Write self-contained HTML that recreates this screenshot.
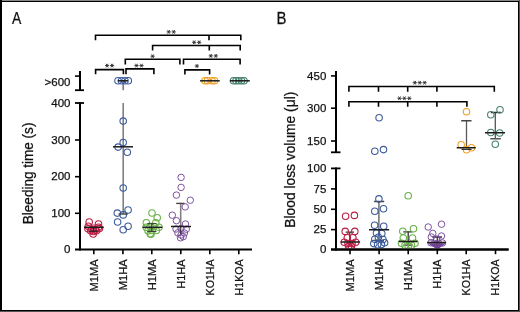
<!DOCTYPE html>
<html><head><meta charset="utf-8"><style>
html,body{margin:0;padding:0;background:#fff;}
svg{display:block;will-change:transform;}
text{font-family:"Liberation Sans", sans-serif;fill:#111;stroke:#111;stroke-width:0.25px;}
</style></head><body>
<svg width="520" height="312" viewBox="0 0 520 312">
<defs><clipPath id="clipB"><rect x="337" y="0" width="183" height="248.6"/></clipPath></defs>
<rect x="0" y="0" width="520" height="312" fill="#fff"/>
<line x1="80" y1="71" x2="80" y2="91" stroke="#000" stroke-width="2"/>
<line x1="75" y1="76.1" x2="80" y2="76.1" stroke="#000" stroke-width="1.6"/>
<line x1="75" y1="90.2" x2="84" y2="90.2" stroke="#000" stroke-width="1.8"/>
<line x1="80" y1="102.2" x2="80" y2="250.5" stroke="#000" stroke-width="2"/>
<line x1="75" y1="103" x2="84" y2="103" stroke="#000" stroke-width="1.8"/>
<line x1="75" y1="140" x2="80" y2="140" stroke="#000" stroke-width="1.6"/>
<line x1="75" y1="176.7" x2="80" y2="176.7" stroke="#000" stroke-width="1.6"/>
<line x1="75" y1="213.3" x2="80" y2="213.3" stroke="#000" stroke-width="1.6"/>
<line x1="75" y1="249.5" x2="252" y2="249.5" stroke="#000" stroke-width="2"/>
<line x1="93.8" y1="250" x2="93.8" y2="254.2" stroke="#000" stroke-width="1.6"/>
<line x1="122.9" y1="250" x2="122.9" y2="254.2" stroke="#000" stroke-width="1.6"/>
<line x1="151.8" y1="250" x2="151.8" y2="254.2" stroke="#000" stroke-width="1.6"/>
<line x1="180.8" y1="250" x2="180.8" y2="254.2" stroke="#000" stroke-width="1.6"/>
<line x1="209.8" y1="250" x2="209.8" y2="254.2" stroke="#000" stroke-width="1.6"/>
<line x1="238.8" y1="250" x2="238.8" y2="254.2" stroke="#000" stroke-width="1.6"/>
<text x="70.5" y="86.1" font-size="11.5" text-anchor="end" >&gt;600</text>
<text x="70.5" y="106.5" font-size="11.5" text-anchor="end" >400</text>
<text x="70.5" y="143.6" font-size="11.5" text-anchor="end" >300</text>
<text x="70.5" y="180.29999999999998" font-size="11.5" text-anchor="end" >200</text>
<text x="70.5" y="216.9" font-size="11.5" text-anchor="end" >100</text>
<text x="70.5" y="253.4" font-size="11.5" text-anchor="end" >0</text>
<text transform="translate(97.9,259.3) rotate(-90)" font-size="11.5" text-anchor="end"  textLength="32.2" lengthAdjust="spacingAndGlyphs">M1MA</text>
<text transform="translate(127,259.3) rotate(-90)" font-size="11.5" text-anchor="end"  textLength="31.0" lengthAdjust="spacingAndGlyphs">M1HA</text>
<text transform="translate(155.9,259.3) rotate(-90)" font-size="11.5" text-anchor="end"  textLength="31.0" lengthAdjust="spacingAndGlyphs">H1MA</text>
<text transform="translate(184.9,259.3) rotate(-90)" font-size="11.5" text-anchor="end"  textLength="29.5" lengthAdjust="spacingAndGlyphs">H1HA</text>
<text transform="translate(213.9,259.3) rotate(-90)" font-size="11.5" text-anchor="end"  textLength="36.2" lengthAdjust="spacingAndGlyphs">KO1HA</text>
<text transform="translate(242.9,259.3) rotate(-90)" font-size="11.5" text-anchor="end"  textLength="36.2" lengthAdjust="spacingAndGlyphs">H1KOA</text>
<text transform="translate(33,224.2) rotate(-90)" font-size="13.8" text-anchor="start"  textLength="101.6" lengthAdjust="spacingAndGlyphs">Bleeding time (s)</text>
<text transform="translate(11.9,23.7) scale(0.83,1)" font-size="16.8">A</text>
<path d="M95.5 40.2L95.5 35.3L240.8 35.3L240.8 40.2M209 35.3L209 40.2" fill="none" stroke="#000" stroke-width="1.6" stroke-linejoin="miter" stroke-linecap="butt"/>
<path d="M166.60 31.90L170.80 31.90M167.65 30.08L169.75 33.72M169.75 30.08L167.65 33.72" stroke="#2a2a2a" stroke-width="0.9" fill="none"/>
<path d="M171.60 31.90L175.80 31.90M172.65 30.08L174.75 33.72M174.75 30.08L172.65 33.72" stroke="#2a2a2a" stroke-width="0.9" fill="none"/>
<path d="M152.6 50.4L152.6 45.5L240.2 45.5L240.2 50.4M209.3 45.5L209.3 50.4" fill="none" stroke="#000" stroke-width="1.6" stroke-linejoin="miter" stroke-linecap="butt"/>
<path d="M192.10 42.30L196.30 42.30M193.15 40.48L195.25 44.12M195.25 40.48L193.15 44.12" stroke="#2a2a2a" stroke-width="0.9" fill="none"/>
<path d="M197.10 42.30L201.30 42.30M198.15 40.48L200.25 44.12M200.25 40.48L198.15 44.12" stroke="#2a2a2a" stroke-width="0.9" fill="none"/>
<path d="M125.3 64.4L125.3 59.3L179.9 59.3L179.9 64.4" fill="none" stroke="#000" stroke-width="1.6" stroke-linejoin="miter" stroke-linecap="butt"/>
<path d="M150.50 56.20L154.70 56.20M151.55 54.38L153.65 58.02M153.65 54.38L151.55 58.02" stroke="#2a2a2a" stroke-width="0.9" fill="none"/>
<path d="M95.6 74.2L95.6 69.6L123.4 69.6L123.4 74.2" fill="none" stroke="#000" stroke-width="1.6" stroke-linejoin="miter" stroke-linecap="butt"/>
<path d="M105.00 65.60L109.20 65.60M106.05 63.78L108.15 67.42M108.15 63.78L106.05 67.42" stroke="#2a2a2a" stroke-width="0.9" fill="none"/>
<path d="M110.00 65.60L114.20 65.60M111.05 63.78L113.15 67.42M113.15 63.78L111.05 67.42" stroke="#2a2a2a" stroke-width="0.9" fill="none"/>
<path d="M126 74.2L126 68.9L153.9 68.9L153.9 74.2" fill="none" stroke="#000" stroke-width="1.6" stroke-linejoin="miter" stroke-linecap="butt"/>
<path d="M134.40 65.60L138.60 65.60M135.45 63.78L137.55 67.42M137.55 63.78L135.45 67.42" stroke="#2a2a2a" stroke-width="0.9" fill="none"/>
<path d="M139.40 65.60L143.60 65.60M140.45 63.78L142.55 67.42M142.55 63.78L140.45 67.42" stroke="#2a2a2a" stroke-width="0.9" fill="none"/>
<path d="M183.5 64.4L183.5 59.3L240.1 59.3L240.1 64.4" fill="none" stroke="#000" stroke-width="1.6" stroke-linejoin="miter" stroke-linecap="butt"/>
<path d="M208.70 55.90L212.90 55.90M209.75 54.08L211.85 57.72M211.85 54.08L209.75 57.72" stroke="#2a2a2a" stroke-width="0.9" fill="none"/>
<path d="M213.70 55.90L217.90 55.90M214.75 54.08L216.85 57.72M216.85 54.08L214.75 57.72" stroke="#2a2a2a" stroke-width="0.9" fill="none"/>
<path d="M184.9 74.5L184.9 69.9L209.6 69.9L209.6 74.5" fill="none" stroke="#000" stroke-width="1.6" stroke-linejoin="miter" stroke-linecap="butt"/>
<path d="M194.80 66.00L199.00 66.00M195.85 64.18L197.95 67.82M197.95 64.18L195.85 67.82" stroke="#2a2a2a" stroke-width="0.9" fill="none"/>
<circle cx="89.2" cy="222" r="3.25" fill="none" stroke="#bb1d43" stroke-width="1.1"/>
<circle cx="98.5" cy="224" r="3.25" fill="none" stroke="#bb1d43" stroke-width="1.1"/>
<circle cx="88.3" cy="226.2" r="3.25" fill="none" stroke="#bb1d43" stroke-width="1.1"/>
<circle cx="98.6" cy="227.2" r="3.25" fill="none" stroke="#bb1d43" stroke-width="1.1"/>
<circle cx="88" cy="228.8" r="3.25" fill="none" stroke="#bb1d43" stroke-width="1.1"/>
<circle cx="99.4" cy="228.6" r="3.25" fill="none" stroke="#bb1d43" stroke-width="1.1"/>
<circle cx="91.8" cy="229.5" r="3.25" fill="none" stroke="#bb1d43" stroke-width="1.1"/>
<circle cx="95.3" cy="229.8" r="3.25" fill="none" stroke="#bb1d43" stroke-width="1.1"/>
<circle cx="90.6" cy="230.8" r="3.25" fill="none" stroke="#bb1d43" stroke-width="1.1"/>
<circle cx="96.4" cy="230.8" r="3.25" fill="none" stroke="#bb1d43" stroke-width="1.1"/>
<circle cx="93.5" cy="228.2" r="3.25" fill="none" stroke="#bb1d43" stroke-width="1.1"/>
<circle cx="93.4" cy="231.5" r="3.25" fill="none" stroke="#bb1d43" stroke-width="1.1"/>
<circle cx="93.2" cy="234" r="3.25" fill="none" stroke="#bb1d43" stroke-width="1.1"/>
<line x1="89" y1="231.2" x2="97.5" y2="231.2" stroke="#222" stroke-width="1.2"/>
<line x1="93.5" y1="227.3" x2="93.5" y2="231.2" stroke="#222" stroke-width="1.2"/>
<line x1="84" y1="227.3" x2="103.8" y2="227.3" stroke="#1c1c1c" stroke-width="1.5"/>
<line x1="123.2" y1="80.8" x2="123.2" y2="90.2" stroke="#808080" stroke-width="1.7"/>
<line x1="123.2" y1="103" x2="123.2" y2="214" stroke="#808080" stroke-width="1.6"/>
<circle cx="118" cy="80.8" r="3.25" fill="none" stroke="#3d5c9c" stroke-width="1.1"/>
<circle cx="121.5" cy="80.8" r="3.25" fill="none" stroke="#3d5c9c" stroke-width="1.1"/>
<circle cx="125" cy="80.8" r="3.25" fill="none" stroke="#3d5c9c" stroke-width="1.1"/>
<circle cx="128.3" cy="80.8" r="3.25" fill="none" stroke="#3d5c9c" stroke-width="1.1"/>
<line x1="117.7" y1="80.8" x2="128" y2="80.8" stroke="#1c1c1c" stroke-width="1.5"/>
<circle cx="123.2" cy="121.1" r="3.25" fill="none" stroke="#3d5c9c" stroke-width="1.1"/>
<circle cx="123.2" cy="142.5" r="3.25" fill="none" stroke="#3d5c9c" stroke-width="1.1"/>
<circle cx="118.1" cy="147.1" r="3.25" fill="none" stroke="#3d5c9c" stroke-width="1.1"/>
<circle cx="127.3" cy="152.2" r="3.25" fill="none" stroke="#3d5c9c" stroke-width="1.1"/>
<circle cx="123.2" cy="188" r="3.25" fill="none" stroke="#3d5c9c" stroke-width="1.1"/>
<circle cx="128.1" cy="210" r="3.25" fill="none" stroke="#3d5c9c" stroke-width="1.1"/>
<circle cx="117.3" cy="213.1" r="3.25" fill="none" stroke="#3d5c9c" stroke-width="1.1"/>
<circle cx="123.2" cy="214.9" r="3.25" fill="none" stroke="#3d5c9c" stroke-width="1.1"/>
<circle cx="117.6" cy="222" r="3.25" fill="none" stroke="#3d5c9c" stroke-width="1.1"/>
<circle cx="128.1" cy="226.2" r="3.25" fill="none" stroke="#3d5c9c" stroke-width="1.1"/>
<circle cx="123.2" cy="229.7" r="3.25" fill="none" stroke="#3d5c9c" stroke-width="1.1"/>
<line x1="113" y1="146.8" x2="133" y2="146.8" stroke="#1c1c1c" stroke-width="1.5"/>
<line x1="118.5" y1="214" x2="127.8" y2="214" stroke="#444" stroke-width="1.4"/>
<circle cx="152" cy="213" r="3.25" fill="none" stroke="#68b046" stroke-width="1.1"/>
<circle cx="157.2" cy="217.8" r="3.25" fill="none" stroke="#68b046" stroke-width="1.1"/>
<circle cx="146.3" cy="222.7" r="3.25" fill="none" stroke="#68b046" stroke-width="1.1"/>
<circle cx="155.8" cy="222.8" r="3.25" fill="none" stroke="#68b046" stroke-width="1.1"/>
<circle cx="146.2" cy="227.2" r="3.25" fill="none" stroke="#68b046" stroke-width="1.1"/>
<circle cx="150" cy="226.3" r="3.25" fill="none" stroke="#68b046" stroke-width="1.1"/>
<circle cx="154" cy="226.5" r="3.25" fill="none" stroke="#68b046" stroke-width="1.1"/>
<circle cx="159" cy="227.2" r="3.25" fill="none" stroke="#68b046" stroke-width="1.1"/>
<circle cx="148" cy="230.8" r="3.25" fill="none" stroke="#68b046" stroke-width="1.1"/>
<circle cx="152" cy="230.5" r="3.25" fill="none" stroke="#68b046" stroke-width="1.1"/>
<circle cx="156.3" cy="230.5" r="3.25" fill="none" stroke="#68b046" stroke-width="1.1"/>
<circle cx="150.2" cy="233.8" r="3.25" fill="none" stroke="#68b046" stroke-width="1.1"/>
<circle cx="151" cy="234.3" r="3.25" fill="none" stroke="#68b046" stroke-width="1.1"/>
<line x1="151.8" y1="223.7" x2="151.8" y2="231.4" stroke="#333" stroke-width="1.0"/>
<line x1="147.3" y1="223.7" x2="156.5" y2="223.7" stroke="#333" stroke-width="1.0"/>
<line x1="147.3" y1="231.4" x2="156.5" y2="231.4" stroke="#333" stroke-width="1.0"/>
<line x1="142.5" y1="227.3" x2="162.3" y2="227.3" stroke="#1c1c1c" stroke-width="1.5"/>
<line x1="180.7" y1="203.4" x2="180.7" y2="226.5" stroke="#808080" stroke-width="1.6"/>
<line x1="176.2" y1="203.4" x2="184.5" y2="203.4" stroke="#444" stroke-width="1.4"/>
<circle cx="181.1" cy="177.4" r="3.25" fill="none" stroke="#77499b" stroke-width="0.95"/>
<circle cx="181.1" cy="187.4" r="3.25" fill="none" stroke="#77499b" stroke-width="0.95"/>
<circle cx="176.4" cy="195.1" r="3.25" fill="none" stroke="#77499b" stroke-width="0.95"/>
<circle cx="190.3" cy="200.2" r="3.25" fill="none" stroke="#77499b" stroke-width="0.95"/>
<circle cx="185.2" cy="206.9" r="3.25" fill="none" stroke="#77499b" stroke-width="0.95"/>
<circle cx="172.3" cy="215.2" r="3.25" fill="none" stroke="#77499b" stroke-width="0.95"/>
<circle cx="176.4" cy="220.7" r="3.25" fill="none" stroke="#77499b" stroke-width="0.95"/>
<circle cx="185.5" cy="224" r="3.25" fill="none" stroke="#77499b" stroke-width="0.95"/>
<circle cx="176" cy="229" r="3.25" fill="none" stroke="#77499b" stroke-width="0.95"/>
<circle cx="181" cy="228.5" r="3.25" fill="none" stroke="#77499b" stroke-width="0.95"/>
<circle cx="186.3" cy="229.2" r="3.25" fill="none" stroke="#77499b" stroke-width="0.95"/>
<circle cx="177.8" cy="232.8" r="3.25" fill="none" stroke="#77499b" stroke-width="0.95"/>
<circle cx="184.4" cy="233" r="3.25" fill="none" stroke="#77499b" stroke-width="0.95"/>
<circle cx="181" cy="235" r="3.25" fill="none" stroke="#77499b" stroke-width="0.95"/>
<circle cx="183.3" cy="236.6" r="3.25" fill="none" stroke="#77499b" stroke-width="0.95"/>
<circle cx="180.5" cy="237.8" r="3.25" fill="none" stroke="#77499b" stroke-width="0.95"/>
<line x1="180.7" y1="226.5" x2="180.7" y2="234" stroke="#333" stroke-width="1.2"/>
<line x1="171" y1="226.5" x2="191" y2="226.5" stroke="#1c1c1c" stroke-width="1.5"/>
<circle cx="205" cy="80.8" r="3.25" fill="none" stroke="#efa025" stroke-width="1.1"/>
<circle cx="207.5" cy="80.8" r="3.25" fill="none" stroke="#efa025" stroke-width="1.1"/>
<circle cx="212" cy="80.8" r="3.25" fill="none" stroke="#efa025" stroke-width="1.1"/>
<circle cx="214.5" cy="80.8" r="3.25" fill="none" stroke="#efa025" stroke-width="1.1"/>
<line x1="200.1" y1="80.8" x2="219.7" y2="80.8" stroke="#1c1c1c" stroke-width="1.5"/>
<circle cx="233.5" cy="80.8" r="3.25" fill="none" stroke="#45836a" stroke-width="1.1"/>
<circle cx="236" cy="80.8" r="3.25" fill="none" stroke="#45836a" stroke-width="1.1"/>
<circle cx="238.8" cy="80.8" r="3.25" fill="none" stroke="#45836a" stroke-width="1.1"/>
<circle cx="241.5" cy="80.8" r="3.25" fill="none" stroke="#45836a" stroke-width="1.1"/>
<circle cx="244" cy="80.8" r="3.25" fill="none" stroke="#45836a" stroke-width="1.1"/>
<line x1="229.9" y1="80.8" x2="249.8" y2="80.8" stroke="#1c1c1c" stroke-width="1.5"/>
<line x1="336" y1="71" x2="336" y2="152.3" stroke="#000" stroke-width="2"/>
<line x1="331" y1="75.9" x2="336" y2="75.9" stroke="#000" stroke-width="1.6"/>
<line x1="331" y1="108.2" x2="336" y2="108.2" stroke="#000" stroke-width="1.6"/>
<line x1="331" y1="141" x2="336" y2="141" stroke="#000" stroke-width="1.6"/>
<line x1="331" y1="152.3" x2="340.5" y2="152.3" stroke="#000" stroke-width="1.8"/>
<line x1="336" y1="167.6" x2="336" y2="250.5" stroke="#000" stroke-width="2"/>
<line x1="331" y1="168.4" x2="340.5" y2="168.4" stroke="#000" stroke-width="1.8"/>
<line x1="331" y1="188.9" x2="336" y2="188.9" stroke="#000" stroke-width="1.6"/>
<line x1="331" y1="209.3" x2="336" y2="209.3" stroke="#000" stroke-width="1.6"/>
<line x1="331" y1="229.6" x2="336" y2="229.6" stroke="#000" stroke-width="1.6"/>
<line x1="331" y1="249.5" x2="508.6" y2="249.5" stroke="#000" stroke-width="2"/>
<line x1="350" y1="250" x2="350" y2="254.2" stroke="#000" stroke-width="1.6"/>
<line x1="379.1" y1="250" x2="379.1" y2="254.2" stroke="#000" stroke-width="1.6"/>
<line x1="408.2" y1="250" x2="408.2" y2="254.2" stroke="#000" stroke-width="1.6"/>
<line x1="437.3" y1="250" x2="437.3" y2="254.2" stroke="#000" stroke-width="1.6"/>
<line x1="466.2" y1="250" x2="466.2" y2="254.2" stroke="#000" stroke-width="1.6"/>
<line x1="495.5" y1="250" x2="495.5" y2="254.2" stroke="#000" stroke-width="1.6"/>
<text x="326.3" y="79.5" font-size="11.5" text-anchor="end" >450</text>
<text x="326.3" y="111.8" font-size="11.5" text-anchor="end" >300</text>
<text x="326.3" y="144.6" font-size="11.5" text-anchor="end" >150</text>
<text x="326.3" y="172.0" font-size="11.5" text-anchor="end" >100</text>
<text x="326.3" y="192.5" font-size="11.5" text-anchor="end" >75</text>
<text x="326.3" y="212.9" font-size="11.5" text-anchor="end" >50</text>
<text x="326.3" y="233.2" font-size="11.5" text-anchor="end" >25</text>
<text x="326.3" y="253.2" font-size="11.5" text-anchor="end" >0</text>
<text transform="translate(353.5,259.3) rotate(-90)" font-size="11.5" text-anchor="end"  textLength="32.2" lengthAdjust="spacingAndGlyphs">M1MA</text>
<text transform="translate(382.6,259.3) rotate(-90)" font-size="11.5" text-anchor="end"  textLength="31.0" lengthAdjust="spacingAndGlyphs">M1HA</text>
<text transform="translate(411.7,259.3) rotate(-90)" font-size="11.5" text-anchor="end"  textLength="31.0" lengthAdjust="spacingAndGlyphs">H1MA</text>
<text transform="translate(440.8,259.3) rotate(-90)" font-size="11.5" text-anchor="end"  textLength="29.5" lengthAdjust="spacingAndGlyphs">H1HA</text>
<text transform="translate(469.7,259.3) rotate(-90)" font-size="11.5" text-anchor="end"  textLength="36.2" lengthAdjust="spacingAndGlyphs">KO1HA</text>
<text transform="translate(499,259.3) rotate(-90)" font-size="11.5" text-anchor="end"  textLength="36.2" lengthAdjust="spacingAndGlyphs">H1KOA</text>
<text transform="translate(295.3,227.7) rotate(-90)" font-size="13.8" text-anchor="start" >Blood loss volume (&#956;l)</text>
<text transform="translate(276.5,23.7) scale(0.89,1)" font-size="16.8">B</text>
<path d="M348.9 91.8L348.9 86.5L494.3 86.5L494.3 91.8M378.5 86.5L378.5 91.8M407.7 86.5L407.7 91.8M436.9 86.5L436.9 91.8" fill="none" stroke="#000" stroke-width="1.6" stroke-linejoin="miter" stroke-linecap="butt"/>
<path d="M412.70 82.70L416.90 82.70M413.75 80.88L415.85 84.52M415.85 80.88L413.75 84.52" stroke="#2a2a2a" stroke-width="0.9" fill="none"/>
<path d="M417.60 82.70L421.80 82.70M418.65 80.88L420.75 84.52M420.75 80.88L418.65 84.52" stroke="#2a2a2a" stroke-width="0.9" fill="none"/>
<path d="M422.50 82.70L426.70 82.70M423.55 80.88L425.65 84.52M425.65 80.88L423.55 84.52" stroke="#2a2a2a" stroke-width="0.9" fill="none"/>
<path d="M348.9 106.8L348.9 101.8L466.9 101.8L466.9 106.8M378.5 101.8L378.5 106.8M407.7 101.8L407.7 106.8M436.9 101.8L436.9 106.8" fill="none" stroke="#000" stroke-width="1.6" stroke-linejoin="miter" stroke-linecap="butt"/>
<path d="M397.40 98.30L401.60 98.30M398.45 96.48L400.55 100.12M400.55 96.48L398.45 100.12" stroke="#2a2a2a" stroke-width="0.9" fill="none"/>
<path d="M402.30 98.30L406.50 98.30M403.35 96.48L405.45 100.12M405.45 96.48L403.35 100.12" stroke="#2a2a2a" stroke-width="0.9" fill="none"/>
<path d="M407.20 98.30L411.40 98.30M408.25 96.48L410.35 100.12M410.35 96.48L408.25 100.12" stroke="#2a2a2a" stroke-width="0.9" fill="none"/>
<g clip-path="url(#clipB)">
<line x1="349.8" y1="232.2" x2="349.8" y2="245" stroke="#333" stroke-width="1.3"/>
<line x1="345.7" y1="232.2" x2="354" y2="232.2" stroke="#333" stroke-width="1.3"/>
<circle cx="345.6" cy="216.3" r="3.25" fill="none" stroke="#bb1d43" stroke-width="1.1"/>
<circle cx="354.4" cy="215.4" r="3.25" fill="none" stroke="#bb1d43" stroke-width="1.1"/>
<circle cx="345.2" cy="231.4" r="3.25" fill="none" stroke="#bb1d43" stroke-width="1.1"/>
<circle cx="354.8" cy="231.4" r="3.25" fill="none" stroke="#bb1d43" stroke-width="1.1"/>
<circle cx="347.3" cy="237.8" r="3.25" fill="none" stroke="#bb1d43" stroke-width="1.1"/>
<circle cx="352.9" cy="237.8" r="3.25" fill="none" stroke="#bb1d43" stroke-width="1.1"/>
<circle cx="344.3" cy="242.3" r="3.25" fill="none" stroke="#bb1d43" stroke-width="1.1"/>
<circle cx="348" cy="243.5" r="3.25" fill="none" stroke="#bb1d43" stroke-width="1.1"/>
<circle cx="352" cy="243.5" r="3.25" fill="none" stroke="#bb1d43" stroke-width="1.1"/>
<circle cx="355.7" cy="242.3" r="3.25" fill="none" stroke="#bb1d43" stroke-width="1.1"/>
<circle cx="348.5" cy="246.2" r="3.25" fill="none" stroke="#bb1d43" stroke-width="1.1"/>
<circle cx="351.5" cy="246.2" r="3.25" fill="none" stroke="#bb1d43" stroke-width="1.1"/>
<circle cx="350" cy="248" r="3.25" fill="none" stroke="#bb1d43" stroke-width="1.1"/>
<line x1="340.6" y1="241.9" x2="360.1" y2="241.9" stroke="#1c1c1c" stroke-width="1.5"/>
<line x1="378.9" y1="201.6" x2="378.9" y2="240.4" stroke="#5a5a5a" stroke-width="1.3"/>
<line x1="374.1" y1="201.6" x2="384.2" y2="201.6" stroke="#444" stroke-width="1.5"/>
<line x1="374" y1="240.4" x2="384" y2="240.4" stroke="#444" stroke-width="1.5"/>
<circle cx="379.1" cy="117.7" r="3.25" fill="none" stroke="#3d5c9c" stroke-width="1.1"/>
<circle cx="374.8" cy="151.3" r="3.25" fill="none" stroke="#3d5c9c" stroke-width="1.1"/>
<circle cx="383.5" cy="149.6" r="3.25" fill="none" stroke="#3d5c9c" stroke-width="1.1"/>
<circle cx="378.9" cy="198.9" r="3.25" fill="none" stroke="#3d5c9c" stroke-width="1.1"/>
<circle cx="374.8" cy="211.2" r="3.25" fill="none" stroke="#3d5c9c" stroke-width="1.1"/>
<circle cx="383.5" cy="208.8" r="3.25" fill="none" stroke="#3d5c9c" stroke-width="1.1"/>
<circle cx="374.6" cy="225.3" r="3.25" fill="none" stroke="#3d5c9c" stroke-width="1.1"/>
<circle cx="383.7" cy="226.3" r="3.25" fill="none" stroke="#3d5c9c" stroke-width="1.1"/>
<circle cx="376.5" cy="233" r="3.25" fill="none" stroke="#3d5c9c" stroke-width="1.1"/>
<circle cx="381.8" cy="233.5" r="3.25" fill="none" stroke="#3d5c9c" stroke-width="1.1"/>
<circle cx="374.8" cy="239.3" r="3.25" fill="none" stroke="#3d5c9c" stroke-width="1.1"/>
<circle cx="383" cy="239.5" r="3.25" fill="none" stroke="#3d5c9c" stroke-width="1.1"/>
<circle cx="378.4" cy="237.3" r="3.25" fill="none" stroke="#3d5c9c" stroke-width="1.1"/>
<circle cx="373.8" cy="243.6" r="3.25" fill="none" stroke="#3d5c9c" stroke-width="1.1"/>
<circle cx="377.6" cy="244.8" r="3.25" fill="none" stroke="#3d5c9c" stroke-width="1.1"/>
<circle cx="381.4" cy="244.6" r="3.25" fill="none" stroke="#3d5c9c" stroke-width="1.1"/>
<circle cx="384.6" cy="242.8" r="3.25" fill="none" stroke="#3d5c9c" stroke-width="1.1"/>
<line x1="369" y1="229.8" x2="389.2" y2="229.8" stroke="#1c1c1c" stroke-width="1.5"/>
<line x1="408.2" y1="231.8" x2="408.2" y2="245.2" stroke="#333" stroke-width="1.3"/>
<line x1="403.3" y1="231.8" x2="412.5" y2="231.8" stroke="#333" stroke-width="1.3"/>
<line x1="403.3" y1="245.2" x2="412.5" y2="245.2" stroke="#333" stroke-width="1.3"/>
<circle cx="408.2" cy="195.7" r="3.25" fill="none" stroke="#68b046" stroke-width="1.1"/>
<circle cx="402.8" cy="231.3" r="3.25" fill="none" stroke="#68b046" stroke-width="1.1"/>
<circle cx="413.5" cy="228.8" r="3.25" fill="none" stroke="#68b046" stroke-width="1.1"/>
<circle cx="403.3" cy="238" r="3.25" fill="none" stroke="#68b046" stroke-width="1.1"/>
<circle cx="412.5" cy="238" r="3.25" fill="none" stroke="#68b046" stroke-width="1.1"/>
<circle cx="401.5" cy="243.2" r="3.25" fill="none" stroke="#68b046" stroke-width="1.1"/>
<circle cx="405" cy="245.3" r="3.25" fill="none" stroke="#68b046" stroke-width="1.1"/>
<circle cx="408.2" cy="246.3" r="3.25" fill="none" stroke="#68b046" stroke-width="1.1"/>
<circle cx="411.5" cy="245.3" r="3.25" fill="none" stroke="#68b046" stroke-width="1.1"/>
<circle cx="415" cy="243.2" r="3.25" fill="none" stroke="#68b046" stroke-width="1.1"/>
<line x1="398.7" y1="241.4" x2="417.6" y2="241.4" stroke="#1c1c1c" stroke-width="1.5"/>
<path d="M427.6 243.2L446 243.2L437.5 249.5Z" fill="#5e2f86" opacity="0.9"/>
<line x1="437.3" y1="237" x2="437.3" y2="246" stroke="#333" stroke-width="1.3"/>
<line x1="432.3" y1="237" x2="442" y2="237" stroke="#333" stroke-width="1.3"/>
<circle cx="428.2" cy="227" r="3.25" fill="none" stroke="#77499b" stroke-width="0.95"/>
<circle cx="441.5" cy="224.2" r="3.25" fill="none" stroke="#77499b" stroke-width="0.95"/>
<circle cx="432.8" cy="233.4" r="3.25" fill="none" stroke="#77499b" stroke-width="0.95"/>
<circle cx="441.5" cy="236" r="3.25" fill="none" stroke="#77499b" stroke-width="0.95"/>
<circle cx="431.3" cy="237" r="3.25" fill="none" stroke="#77499b" stroke-width="0.95"/>
<circle cx="436.5" cy="239" r="3.25" fill="none" stroke="#77499b" stroke-width="0.95"/>
<circle cx="431" cy="242.8" r="3.25" fill="none" stroke="#77499b" stroke-width="0.95"/>
<circle cx="434.5" cy="243.5" r="3.25" fill="none" stroke="#77499b" stroke-width="0.95"/>
<circle cx="438.5" cy="243.5" r="3.25" fill="none" stroke="#77499b" stroke-width="0.95"/>
<circle cx="442.5" cy="243" r="3.25" fill="none" stroke="#77499b" stroke-width="0.95"/>
<line x1="427.2" y1="242.6" x2="446.1" y2="242.6" stroke="#1c1c1c" stroke-width="1.5"/>
<line x1="466.5" y1="120.7" x2="466.5" y2="147.7" stroke="#5a5a5a" stroke-width="1.3"/>
<line x1="461.2" y1="120.7" x2="471.5" y2="120.7" stroke="#444" stroke-width="1.5"/>
<circle cx="466.5" cy="111.8" r="3.25" fill="none" stroke="#efa025" stroke-width="1.1"/>
<circle cx="461.2" cy="144.8" r="3.25" fill="none" stroke="#efa025" stroke-width="1.1"/>
<circle cx="471.5" cy="147.7" r="3.25" fill="none" stroke="#efa025" stroke-width="1.1"/>
<circle cx="466.5" cy="149.8" r="3.25" fill="none" stroke="#efa025" stroke-width="1.1"/>
<line x1="456.7" y1="147.7" x2="475.8" y2="147.7" stroke="#1c1c1c" stroke-width="1.5"/>
<line x1="461.5" y1="149.4" x2="471.5" y2="149.4" stroke="#333" stroke-width="1.2"/>
<line x1="495.3" y1="112.5" x2="495.3" y2="138.7" stroke="#555" stroke-width="1.3"/>
<line x1="490.8" y1="112.5" x2="500.8" y2="112.5" stroke="#333" stroke-width="1.5"/>
<line x1="490.3" y1="138.7" x2="500.8" y2="138.7" stroke="#555" stroke-width="1.5"/>
<circle cx="500" cy="109.7" r="3.25" fill="none" stroke="#45836a" stroke-width="1.1"/>
<circle cx="490.8" cy="114.7" r="3.25" fill="none" stroke="#45836a" stroke-width="1.1"/>
<circle cx="490.8" cy="132.5" r="3.25" fill="none" stroke="#45836a" stroke-width="1.1"/>
<circle cx="499.7" cy="133" r="3.25" fill="none" stroke="#45836a" stroke-width="1.1"/>
<circle cx="495.3" cy="144.2" r="3.25" fill="none" stroke="#45836a" stroke-width="1.1"/>
<line x1="485" y1="132.8" x2="505" y2="132.8" stroke="#1c1c1c" stroke-width="1.5"/>
</g>
<line x1="331" y1="249.5" x2="508.6" y2="249.5" stroke="#000" stroke-width="2"/>
<line x1="336" y1="240" x2="336" y2="250.5" stroke="#000" stroke-width="2"/>
<rect x="0" y="0" width="520" height="312" fill="none"/>
<line x1="0" y1="0.5" x2="520" y2="0.5" stroke="#888" stroke-width="1"/>
<line x1="0" y1="1.5" x2="519" y2="1.5" stroke="#000" stroke-width="1"/>
<line x1="1" y1="0" x2="1" y2="311" stroke="#000" stroke-width="2"/>
<line x1="518.5" y1="1" x2="518.5" y2="311" stroke="#000" stroke-width="1"/>
<line x1="519.5" y1="0" x2="519.5" y2="312" stroke="#555" stroke-width="1"/>
<line x1="0" y1="310.5" x2="519" y2="310.5" stroke="#000" stroke-width="1"/>
<line x1="0" y1="311.5" x2="520" y2="311.5" stroke="#555" stroke-width="1"/>

</svg>
</body></html>
